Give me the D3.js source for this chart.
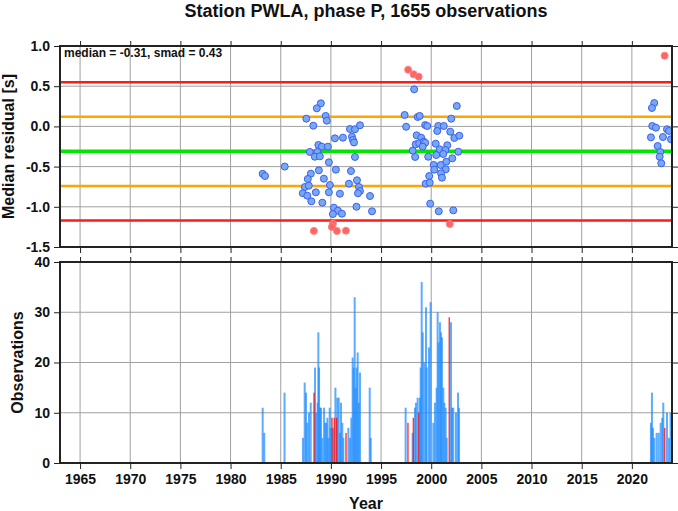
<!DOCTYPE html>
<html>
<head>
<meta charset="utf-8">
<script src="https://cdn.jsdelivr.net/npm/d3@7"></script>
<style>
  body { margin: 0; background: #fff; }
  svg { display: block; font-family: "Liberation Sans", Arial, Helvetica, sans-serif; }
</style>
</head>
<body>
<svg id="chart" width="678" height="511"></svg>
<script>
// ---------------- data ----------------
const titleText = "Station PWLA, phase P, 1655 observations";
const statsText = "median = -0.31, smad = 0.43";
const medianValue = -0.31;
const smadValue = 0.43;
const xTickYears = [1965, 1970, 1975, 1980, 1985, 1990, 1995, 2000, 2005, 2010, 2015, 2020];
const residualTicks = [1.0, 0.5, 0.0, -0.5, -1.0, -1.5];
const countTicks = [0, 10, 20, 30, 40];

// residual points (blue: within 2 smad)
const blueDates = [
  1983.2, 1983.43, 1985.4, 1989.0, 1988.6, 1987.55, 1989.48, 1989.6, 1988.25, 1991.9,
  1992.4, 1992.9, 1990.4, 1991.2, 1992.1, 1992.2, 1992.3, 1988.75, 1989.1, 1989.7,
  1987.9, 1988.65, 1988.4, 1988.9, 1992.4, 1989.8, 1988.8, 1990.5, 1992.0, 1988.0,
  1987.7, 1989.3, 1992.6, 1987.4, 1987.8, 1989.9, 1991.8, 1992.8, 1992.9, 1992.7,
  1987.2, 1987.65, 1988.5, 1989.8, 1990.9, 1993.9, 1988.05, 1989.15, 1990.3, 1990.7,
  1990.2, 1991.1, 1992.55, 1994.1,
  1998.3, 2002.55, 1997.35, 1998.65, 1998.85, 2002.0, 1997.5, 1999.4, 1999.6, 2000.7,
  2001.25, 2000.6, 2001.9, 1998.55, 1999.0, 2002.3, 2002.8, 1998.45, 1998.8, 1999.25,
  1999.4, 2000.45, 2001.6, 1999.15, 1998.15, 2000.85, 2001.4, 2002.7, 2001.2, 1998.4,
  1999.7, 2000.5, 2002.1, 2001.5, 2000.25, 2000.95, 2000.3, 2001.45, 2000.98, 1999.8,
  2001.07, 1999.45, 1999.85, 1999.9, 2000.75, 2002.2,
  2022.23, 2022.0, 2022.03, 2022.4, 2023.5, 2023.7, 2021.9, 2023.1, 2023.9, 2022.57,
  2022.83, 2022.77, 2022.93
];
const blueResiduals = [
  -0.59, -0.617, -0.50, 0.287, 0.225, 0.096, 0.13, 0.071, 0.009, -0.032,
  -0.036, 0.014, -0.148, -0.14, -0.128, -0.169, -0.20, -0.231, -0.252, -0.252,
  -0.318, -0.318, -0.377, -0.372, -0.38, -0.447, -0.546, -0.538, -0.555, -0.588,
  -0.654, -0.65, -0.67, -0.754, -0.737, -0.729, -0.713, -0.754, -0.803, -0.832,
  -0.832, -0.862, -0.82, -0.82, -0.837, -0.866, -0.932, -0.949, -1.011, -1.048,
  -1.09, -1.086, -0.999, -1.056,
  0.461, 0.254, 0.142, 0.117, 0.13, 0.096, -0.004, 0.017, 0.005, 0.005,
  0.005, -0.057, -0.066, -0.111, -0.14, -0.144, -0.116, -0.223, -0.21, -0.19,
  -0.203, -0.215, -0.235, -0.252, -0.302, -0.285, -0.294, -0.315, -0.343, -0.38,
  -0.377, -0.356, -0.397, -0.439, -0.48, -0.48, -0.538, -0.534, -0.583, -0.617,
  -0.638, -0.713, -0.70, -0.961, -1.056, -1.044,
  0.291, 0.229, 0.005, -0.016, -0.036, -0.057, -0.136, -0.132, -0.16, -0.244,
  -0.318, -0.377, -0.459
];
// outliers (red)
const redDates = [1988.3, 1990.2, 1990.1, 1990.6, 1991.5, 1997.7, 1998.25, 1998.75, 2001.85, 2023.27];
const redResiduals = [-1.30, -1.21, -1.25, -1.30, -1.297, 0.705, 0.648, 0.618, -1.214, 0.879];

// observation counts per date (blue)
const barDates = [
  1983.20, 1983.36, 1985.38,
  1987.22, 1987.39, 1987.52, 1987.65, 1987.82, 1987.99, 1988.42, 1988.52, 1988.68, 1988.75,
  1988.82, 1988.92, 1989.02, 1989.15, 1989.32, 1989.45, 1989.55, 1989.65, 1989.75, 1989.88,
  1989.98, 1990.21, 1990.45, 1990.64, 1990.78, 1990.91, 1991.01, 1991.14, 1991.24, 1991.74,
  1991.91, 1992.04, 1992.17, 1992.27, 1992.37, 1992.47, 1992.57, 1992.67, 1992.77, 1992.90,
  1993.87, 1993.97,
  1997.45, 1998.15, 1998.38, 1998.48, 1998.65, 1998.88, 1998.95, 1999.05, 1999.15, 1999.31,
  1999.48, 1999.55, 1999.78, 1999.94, 2000.21, 2000.37, 2000.54, 2000.64, 2000.74, 2000.87,
  2000.97, 2001.07, 2001.21, 2001.31, 2001.44, 2001.54, 2001.97, 2002.07, 2002.20, 2002.47,
  2002.67, 2002.77,
  2021.90, 2022.00, 2022.10, 2022.24, 2022.47, 2022.67, 2022.87, 2023.03, 2023.13, 2023.50,
  2023.70, 2023.86
];
const barCounts = [
  11, 6, 14,
  5, 16, 14, 8, 10, 12, 19, 10, 12, 26,
  19, 11, 11, 5, 11, 8, 8, 9, 5, 11,
  7, 7, 15, 13, 13, 6, 12, 8, 5, 7,
  5, 9, 21, 19, 33, 15, 19, 22, 12, 18,
  15, 5,
  11, 6, 11, 12, 13, 13, 19, 36, 26, 20,
  31, 19, 23, 32, 8, 12, 15, 30, 24, 28,
  26, 25, 15, 12, 11, 5, 28, 11, 11, 10,
  14, 11,
  8, 14, 7, 5, 6, 6, 8, 9, 12, 10,
  5, 10
];
// observation counts per date (red: outlier dates)
const redBarDates = [1988.32, 1990.11, 1990.35, 1990.58, 1991.51, 1997.68, 1998.22, 1998.75, 2001.80, 2023.27];
const redBarCounts = [14, 9, 9, 9, 6, 8, 9, 10, 29, 7];

// ---------------- drawing ----------------
const svg = d3.select("#chart");
const W = 678, H = 511;
const x = d3.scaleLinear().domain([1963, 2024]).range([60, 672]);
const yTop = d3.scaleLinear().domain([-1.5, 1.0]).range([247, 46]);
const yBot = d3.scaleLinear().domain([0, 40]).range([463, 262]);
const gridColor = "#a0a0a0";
const fontBold = "bold";

svg.append("rect").attr("width", W).attr("height", H).attr("fill", "#fff");

// title
svg.append("text").attr("x", 366).attr("y", 17).attr("text-anchor", "middle")
  .attr("font-size", 18).attr("font-weight", fontBold).attr("fill", "#111").text(titleText);

function panel(yScale, yTicks, clipId) {
  const g = svg.append("g");
  const [y0, y1] = yScale.range(); // bottom, top
  g.append("g").selectAll("line").data(xTickYears).join("line")
    .attr("x1", d => x(d)).attr("x2", d => x(d))
    .attr("y1", y1).attr("y2", y0)
    .attr("stroke", gridColor).attr("stroke-width", 1);
  g.append("g").selectAll("line").data(yTicks.slice(1, -1)).join("line")
    .attr("x1", x.range()[0]).attr("x2", x.range()[1])
    .attr("y1", d => yScale(d)).attr("y2", d => yScale(d))
    .attr("stroke", gridColor).attr("stroke-width", 1);
  svg.append("clipPath").attr("id", clipId).append("rect")
    .attr("x", x.range()[0]).attr("y", y1)
    .attr("width", x.range()[1] - x.range()[0]).attr("height", y0 - y1);
  return g;
}

function frame(yScale, yTicks, fmt, showXLabels) {
  const [y0, y1] = yScale.range();
  const axL = svg.append("g").attr("transform", `translate(${x.range()[0]},0)`)
    .call(d3.axisLeft(yScale).tickValues(yTicks).tickFormat(fmt).tickSize(6).tickPadding(4));
  const axR = svg.append("g").attr("transform", `translate(${x.range()[1]},0)`)
    .call(d3.axisRight(yScale).tickValues(yTicks).tickFormat("").tickSize(6));
  const axT = svg.append("g").attr("transform", `translate(0,${y1})`)
    .call(d3.axisTop(x).tickValues(xTickYears).tickFormat("").tickSize(5));
  const axB = svg.append("g").attr("transform", `translate(0,${y0})`)
    .call(d3.axisBottom(x).tickValues(xTickYears).tickFormat(showXLabels ? d3.format("d") : "").tickSize(6).tickPadding(5));
  [axL, axR, axT, axB].forEach(a => {
    a.select(".domain").remove();
    a.selectAll(".tick line").attr("stroke", "#222").attr("stroke-width", 1);
    a.selectAll(".tick text").attr("font-size", 14).attr("font-weight", fontBold)
      .attr("fill", "#111").attr("font-family", "Liberation Sans, Arial, sans-serif");
  });
  svg.append("rect").attr("x", x.range()[0]).attr("y", y1)
    .attr("width", x.range()[1] - x.range()[0]).attr("height", y0 - y1)
    .attr("fill", "none").attr("stroke", "#222").attr("stroke-width", 2);
}

// ---- top panel ----
panel(yTop, residualTicks, "clipTop");
const lineVals = [medianValue + 2 * smadValue, medianValue + smadValue, medianValue, medianValue - smadValue, medianValue - 2 * smadValue];
const lineColors = ["#ff1a1a", "#ffa500", "#00e600", "#ffa500", "#ff1a1a"];
const lineWidths = [2.5, 2.5, 3.5, 2.5, 2.5];
svg.append("g").selectAll("line").data(lineVals).join("line")
  .attr("x1", x.range()[0]).attr("x2", x.range()[1])
  .attr("y1", d => yTop(d)).attr("y2", d => yTop(d))
  .attr("stroke", (d, i) => lineColors[i]).attr("stroke-width", (d, i) => lineWidths[i]);

const ptsG = svg.append("g").attr("clip-path", "url(#clipTop)");
ptsG.selectAll("circle.b").data(blueDates).join("circle")
  .attr("cx", d => x(d)).attr("cy", (d, i) => yTop(blueResiduals[i])).attr("r", 3.5)
  .attr("fill", "#78a8f2").attr("stroke", "#3a5ff0").attr("stroke-width", 1);
ptsG.selectAll("circle.r").data(redDates).join("circle")
  .attr("cx", d => x(d)).attr("cy", (d, i) => yTop(redResiduals[i])).attr("r", 3.5)
  .attr("fill", "#ff6464").attr("stroke", "#ff8080").attr("stroke-width", 1);

frame(yTop, residualTicks, d => d.toFixed(1), false);

svg.append("text").attr("x", 64).attr("y", 57).attr("font-size", 12)
  .attr("font-weight", fontBold).attr("fill", "#111").text(statsText);

// ---- bottom panel ----
panel(yBot, countTicks, "clipBot");
const barsG = svg.append("g").attr("clip-path", "url(#clipBot)");
const barW = 2;
barsG.selectAll("rect.b").data(barDates).join("rect")
  .attr("x", d => x(d) - barW / 2).attr("width", barW)
  .attr("y", (d, i) => yBot(barCounts[i])).attr("height", (d, i) => yBot(0) - yBot(barCounts[i]))
  .attr("fill", "#1e8cff").attr("fill-opacity", 0.72);
barsG.selectAll("rect.r").data(redBarDates).join("rect")
  .attr("x", d => x(d) - 0.75).attr("width", 1.5)
  .attr("y", (d, i) => yBot(redBarCounts[i])).attr("height", (d, i) => yBot(0) - yBot(redBarCounts[i]))
  .attr("fill", "#ff0000").attr("fill-opacity", 0.75);

frame(yBot, countTicks, d3.format("d"), true);

// axis titles
svg.append("text").attr("transform", `translate(14,${(yTop.range()[0] + yTop.range()[1]) / 2}) rotate(-90)`)
  .attr("text-anchor", "middle").attr("font-size", 16).attr("font-weight", fontBold).attr("fill", "#111")
  .text("Median residual [s]");
svg.append("text").attr("transform", `translate(23,${(yBot.range()[0] + yBot.range()[1]) / 2}) rotate(-90)`)
  .attr("text-anchor", "middle").attr("font-size", 16).attr("font-weight", fontBold).attr("fill", "#111")
  .text("Observations");
svg.append("text").attr("x", 366).attr("y", 509).attr("text-anchor", "middle")
  .attr("font-size", 16).attr("font-weight", fontBold).attr("fill", "#111").text("Year");
</script>
</body>
</html>
